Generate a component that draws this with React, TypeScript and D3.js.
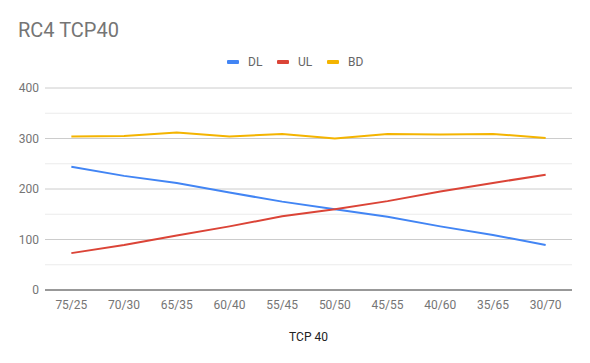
import React from "react";
import * as d3 from "d3";

const categories = ["75/25", "70/30", "65/35", "60/40", "55/45", "50/50", "45/55", "40/60", "35/65", "30/70"];
const dlValues = [244, 226, 212, 193, 175, 160, 145, 126, 109, 89];
const ulValues = [73, 89, 108, 126, 146, 160, 176, 195, 212, 228];
const bdValues = [304, 305, 312, 304, 309, 300, 309, 308, 309, 301];
const yTicks = [0, 100, 200, 300, 400];
const minorTicks = [50, 150, 250, 350];

const series = [
  { name: "DL", values: dlValues, color: "#4285f4" },
  { name: "UL", values: ulValues, color: "#db4437" },
  { name: "BD", values: bdValues, color: "#f4b400" },
];

export default function App() {
  const width = 590, height = 363;
  const left = 45, right = 572, top = 88, bottom = 290;

  const x = d3.scaleBand<string>().domain(categories).range([left, right]);
  const y = d3.scaleLinear().domain([0, 400]).range([bottom, top]);
  const cx = (c: string) => (x(c) as number) + x.bandwidth() / 2;

  const line = d3.line<number>()
    .x((_, i) => cx(categories[i]))
    .y(d => y(d));

  const font = "Roboto, Arial, sans-serif";
  // legend keys sit 50px apart, centred over the plot
  const legendX = series.map((_, i) => 227 + i * 50);

  return (
    <svg width={width} height={height} style={{ position: "absolute", left: 0, top: 0, fontFamily: font }}>
      <rect width={width} height={height} fill="#fff" />
      <text x={18} y={37} fontSize={20} fill="#757575">RC4 TCP40</text>

      {series.map((s, i) => (
        <g key={s.name}>
          <rect x={legendX[i]} y={60} width={12} height={4} rx={1} fill={s.color} />
          <text x={legendX[i] + 21} y={66} fontSize={12} fill="#666">{s.name}</text>
        </g>
      ))}

      {minorTicks.map(t => (
        <line key={t} x1={left} x2={right} y1={y(t)} y2={y(t)} stroke="#ebebeb" strokeWidth={1} />
      ))}
      {yTicks.filter(t => t > 0).map(t => (
        <line key={t} x1={left} x2={right} y1={y(t)} y2={y(t)} stroke="#cccccc" strokeWidth={1} />
      ))}
      <line x1={left} x2={right} y1={y(0)} y2={y(0)} stroke="#333" strokeWidth={1} />

      {yTicks.map(t => (
        <text key={t} x={39} y={y(t) + 4} fontSize={12} fill="#757575" textAnchor="end">{t}</text>
      ))}

      {categories.map(c => (
        <text key={c} x={cx(c)} y={309} fontSize={12} fill="#757575" textAnchor="middle">{c}</text>
      ))}

      <text x={(left + right) / 2} y={341} fontSize={12} fill="#222" textAnchor="middle">TCP 40</text>

      {series.map(s => (
        <path key={s.name} d={line(s.values) as string} fill="none" stroke={s.color} strokeWidth={2} />
      ))}
    </svg>
  );
}
